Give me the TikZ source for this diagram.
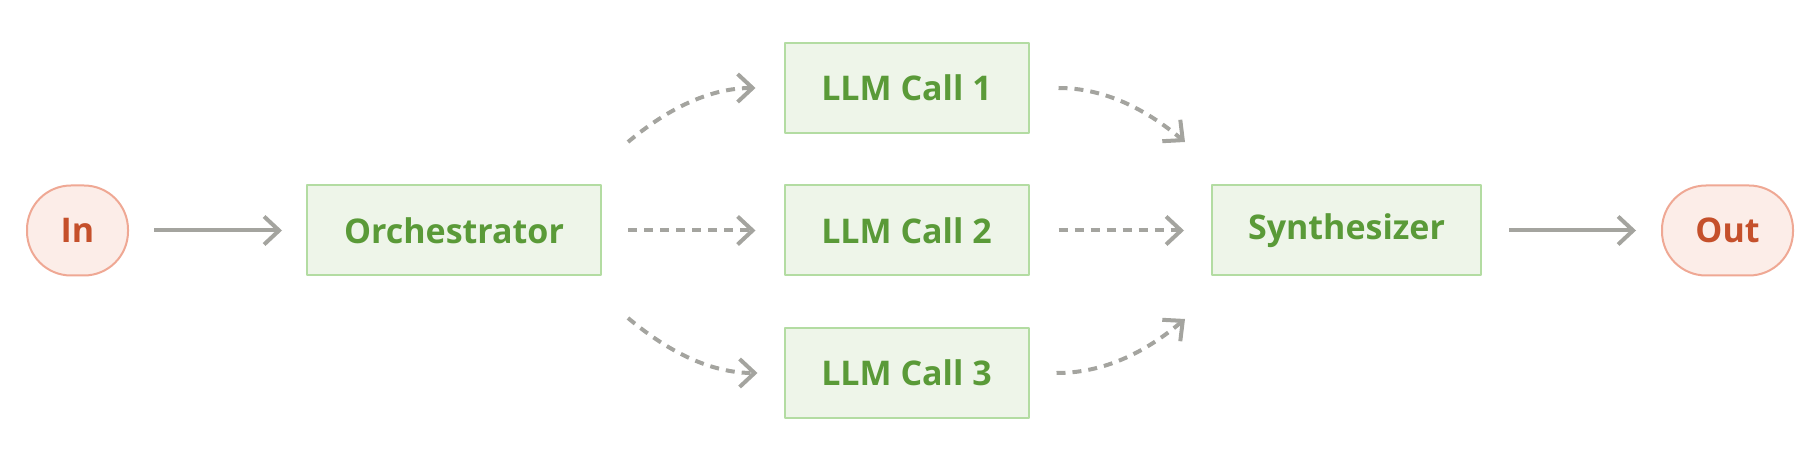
\documentclass[tikz,border=0pt]{standalone}
\usepackage{fontspec}
\setmainfont{Open Sans}
\usepackage{tikz}
\usetikzlibrary{arrows.meta}
\definecolor{boxfill}{HTML}{EEF5E9}
\definecolor{boxline}{HTML}{B3DCA2}
\definecolor{boxtext}{HTML}{5A9A38}
\definecolor{endfill}{HTML}{FCEDE8}
\definecolor{endline}{HTML}{EFA894}
\definecolor{endtext}{HTML}{C5502B}
\definecolor{flow}{HTML}{A4A49F}

\begin{document}
\begin{tikzpicture}[x=1pt,y=1pt,>={Straight Barb[length=15pt,width=28pt]},line join=bevel,
  llmbox/.style={draw=boxline,fill=boxfill,line width=2pt,text=boxtext,minimum height=90pt,
    font=\fontsize{34pt}{40pt}\selectfont\bfseries},
  endbox/.style={draw=endline,fill=endfill,line width=2pt,text=endtext,minimum height=90pt,
    rounded corners=44pt,font=\fontsize{34pt}{40pt}\selectfont\bfseries},
  solidflow/.style={flow,line width=4pt,->},
  dashflow/.style={flow,line width=4pt,->,dash pattern=on 9pt off 7pt}]
\useasboundingbox (0,0) rectangle (1818,461);
%%
\node (node_in) at (77.5,230.5) [endbox,minimum width=101pt] {In};
  \node (node_orch) at (454,230.5) [llmbox,minimum width=294pt] {Orchestrator};
  \node (node_llm1) at (906.5,373) [llmbox,minimum width=244pt] {LLM Call 1};
  \node (node_llm2) at (906.5,230.5) [llmbox,minimum width=244pt] {LLM Call 2};
  \node (node_llm3) at (906.5,88) [llmbox,minimum width=244pt] {LLM Call 3};
  \node (node_synth) at (1346.5,230.5) [llmbox,minimum width=269pt] {Synthesizer};
  \node (node_out) at (1727.5,230.5) [endbox,minimum width=131pt] {Out};
  \coordinate (fork_up) at (628,319);
  \coordinate (fork_dn) at (628,143);
  \coordinate (join_up) at (1185,319);
  \coordinate (join_dn) at (1185,142);
%
  \draw [solidflow,shorten <=25pt,shorten >=24pt] (node_in) -- (node_orch);
  \draw [dashflow,shorten <=26pt,shorten >=28pt] (node_orch) -- (node_llm2);
  \draw [dashflow,shorten >=28pt] (fork_up) to[out=40,in=180] (node_llm1);
  \draw [dashflow,shorten >=26pt] (fork_dn) to[out=-40,in=180] (node_llm3);
  \draw [dashflow,shorten <=29pt] (node_llm1) to[out=0,in=140] (join_up);
  \draw [dashflow,shorten <=29pt,shorten >=27pt] (node_llm2) -- (node_synth);
  \draw [dashflow,shorten <=27pt] (node_llm3) to[out=0,in=-140] (join_dn);
  \draw [solidflow,shorten <=27pt,shorten >=25pt] (node_synth) -- (node_out);
%
\end{tikzpicture}
\end{document}
